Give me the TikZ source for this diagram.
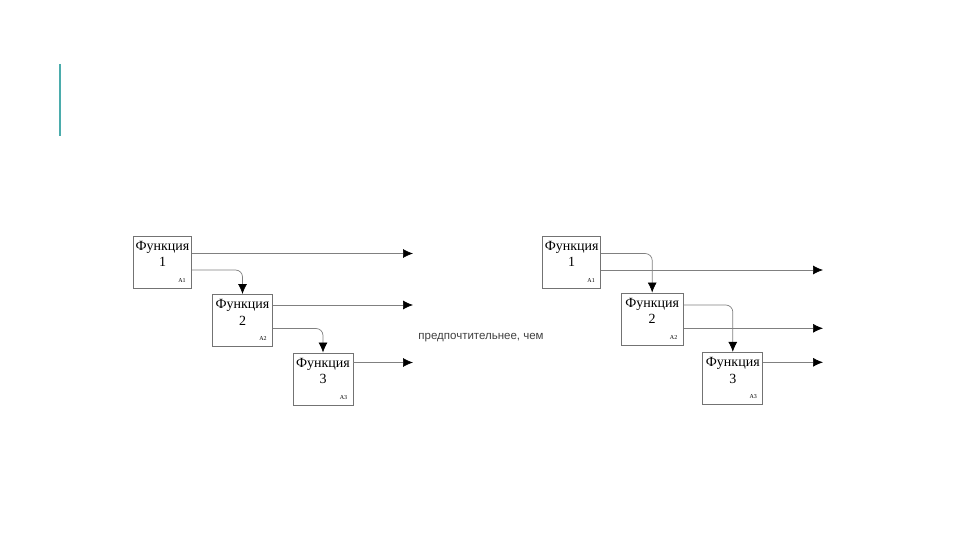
\documentclass[tikz,border=0pt]{standalone}
\usepackage{fontspec}
\setmainfont{Liberation Serif}
\newfontfamily\sansfont{Liberation Sans}
\usetikzlibrary{arrows.meta,positioning}
\definecolor{barteal}{RGB}{75,172,172}
\tikzstyle{line} = [draw=black!50, -{Latex[length=10pt,width=9pt,black]}, line width=0.7pt]
\tikzstyle{fbox} = [draw=black!55, line width=0.9pt, rectangle, minimum width=60pt, minimum height=52pt, inner sep=0pt]
\tikzstyle{fname} = [font=\fontsize{14}{16.5}\selectfont, align=center, inner sep=0pt, anchor=north]
\tikzstyle{fcode} = [font=\fontsize{6}{7}\selectfont, inner sep=0pt]

\begin{document}
\begin{tikzpicture}[x=1pt,y=-1pt]
	\useasboundingbox (0,0) rectangle (960,540);
	\draw[barteal, line width=2pt] (60,64) -- (60,136);
	% -------------- Left: three functions --------------
	\node[fbox, minimum width=58pt] (f1) at (162.5,262) {};
	\node[fbox] (f2) at (242.5,320.5) {};
	\node[fbox] (f3) at (323,379) {};
	\node[fname] (f1t) at ([yshift=-5.5pt]f1.north) {Функция\\1};
	\node[fname] (f2t) at ([yshift=-5.5pt]f2.north) {Функция\\2};
	\node[fname] (f3t) at ([yshift=-5.5pt]f3.north) {Функция\\3};
	\node[fcode] (f1c) at ([xshift=-10pt,yshift=8pt]f1.south east) {A1};
	\node[fcode] (f2c) at ([xshift=-10pt,yshift=8pt]f2.south east) {A2};
	\node[fcode] (f3c) at ([xshift=-10pt,yshift=8pt]f3.south east) {A3};
	\coordinate (o1) at (413,253.5);
	\coordinate (o2) at (413,305);
	\coordinate (o3) at (413,362.5);
	\draw[line] (f1.east |- o1) -- (o1);
	\draw[line] (f2.east |- o2) -- (o2);
	\draw[line] (f3.east |- o3) -- (o3);
	\draw[line, rounded corners=7pt] ([yshift=-8pt]f1.east) -| (f2.north);
	\draw[line, rounded corners=7pt] ([yshift=-8pt]f2.east) -| (f3.north);
	% -------------- Middle text --------------
	\node[font=\sansfont\fontsize{11.5}{13}\selectfont, text=black!75, inner sep=0pt] (cmp) at (481,338) {предпочтительнее, чем};
	% -------------- Right: three functions --------------
	\node[fbox, minimum width=58pt] (g1) at (571.7,262) {};
	\node[fbox, minimum width=62pt] (g2) at (652.2,319) {};
	\node[fbox] (g3) at (732.8,378.3) {};
	\node[fname] (g1t) at ([yshift=-5.5pt]g1.north) {Функция\\1};
	\node[fname] (g2t) at ([yshift=-5.5pt]g2.north) {Функция\\2};
	\node[fname] (g3t) at ([yshift=-5.5pt]g3.north) {Функция\\3};
	\node[fcode] (g1c) at ([xshift=-10pt,yshift=8pt]g1.south east) {A1};
	\node[fcode] (g2c) at ([xshift=-10pt,yshift=8pt]g2.south east) {A2};
	\node[fcode] (g3c) at ([xshift=-10pt,yshift=8pt]g3.south east) {A3};
	\coordinate (p1) at (823,270);
	\coordinate (p2) at (823,328.3);
	\coordinate (p3) at (823,362.3);
	\draw[line] (g1.east |- p1) -- (p1);
	\draw[line] (g2.east |- p2) -- (p2);
	\draw[line] (g3.east |- p3) -- (p3);
	\draw[line, rounded corners=7pt] ([yshift=8.5pt]g1.east) -| (g2.north);
	\draw[line, rounded corners=7pt] ([yshift=14pt]g2.east) -| (g3.north);
\end{tikzpicture}
\end{document}
